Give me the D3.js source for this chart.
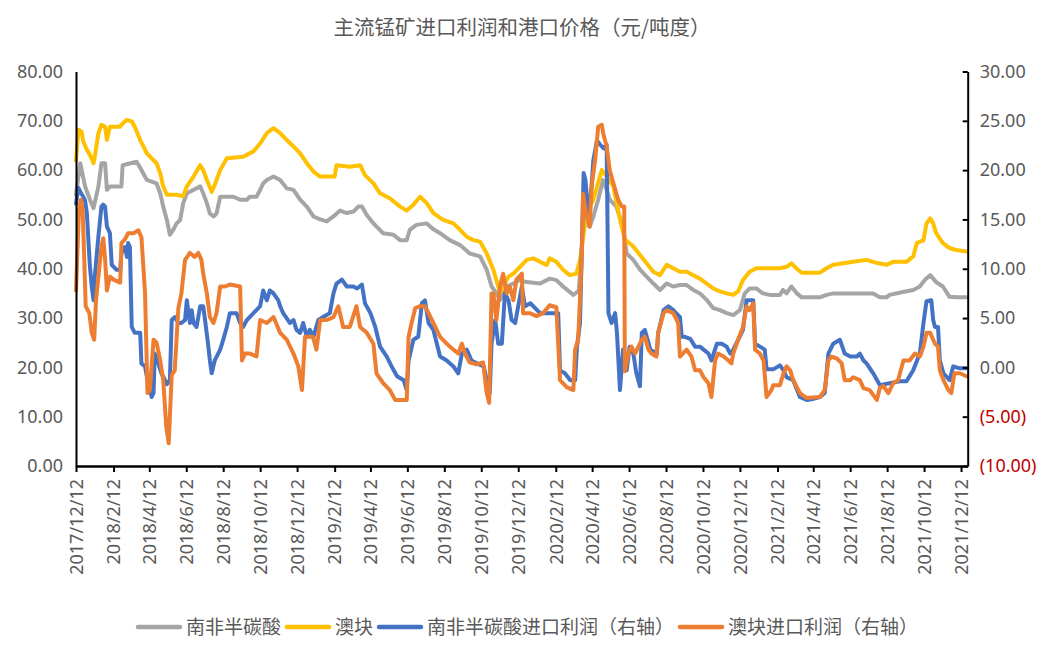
<!DOCTYPE html>
<html><head><meta charset="utf-8">
<script src="https://cdn.jsdelivr.net/npm/d3@7"></script>
<style>
body{margin:0;background:#fff;}
svg{display:block;}
</style></head>
<body>
<svg id="c" width="1057" height="657"></svg>
<script>
// ---- data (days since 2017/12/12, value) ----
const startDate = "2017/12/12";
const tickLabels = ["2017/12/12","2018/2/12","2018/4/12","2018/6/12","2018/8/12","2018/10/12","2018/12/12",
  "2019/2/12","2019/4/12","2019/6/12","2019/8/12","2019/10/12","2019/12/12","2020/2/12","2020/4/12",
  "2020/6/12","2020/8/12","2020/10/12","2020/12/12","2021/2/12","2021/4/12","2021/6/12","2021/8/12",
  "2021/10/12","2021/12/12"];
const leftTicks = [0,10,20,30,40,50,60,70,80];
const rightTicks = [-10,-5,0,5,10,15,20,25,30];
const seriesNames = ["南非半碳酸","澳块","南非半碳酸进口利润（右轴）","澳块进口利润（右轴）"];

const saPrice = [[0,55],[7,61.4],[15,56.7],[23,54],[29,52.3],[37,56.7],[42,61.4],[48,61.4],[51,56],[56,56.7],[75,56.7],[77,61],[100,61.7],[105,60.7],[117,58],[133,57.3],[139,55.3],[144,52.6],[150,49.9],[155,46.9],[161,48],[166,49.2],[172,49.9],[177,53.3],[183,55.3],[194,56],[205,56.7],[210,55.3],[216,53.3],[221,51.2],[227,50.6],[232,51.2],[238,54.6],[260,54.6],[271,54],[282,54],[287,54.6],[298,54.6],[304,56],[309,57.3],[315,58],[326,58.7],[337,58],[348,56.3],[359,56],[370,54],[381,52.6],[392,50.6],[403,50],[414,49.6],[425,50.6],[436,51.8],[447,51.3],[458,51.6],[466,52.6],[472,52.6],[480,50.9],[491,49.2],[507,47.2],[524,46.9],[535,45.8],[546,45.8],[551,47.9],[562,48.9],[579,49.2],[590,48],[601,47.2],[617,45.8],[634,44.8],[650,43.1],[667,42.5],[678,39.8],[686,36.4],[694,35],[700,33.7],[705,35],[711,36.4],[722,37],[733,37.7],[744,37.3],[766,37],[782,38],[793,37.7],[804,36.4],[821,34.7],[830,35.5],[838,49.9],[848,48.5],[854,50.6],[862,54],[870,58],[876,56],[881,54],[892,52.6],[903,48.5],[909,43.1],[920,41.8],[931,39.8],[942,38.4],[953,37],[964,35.7],[975,37],[986,36.4],[997,36.7],[1008,36.7],[1019,35.7],[1030,35],[1041,33.7],[1052,32],[1063,31.6],[1074,31],[1085,30.6],[1096,31.6],[1104,35],[1112,36],[1123,36],[1134,35],[1145,34.7],[1162,34.7],[1167,35.7],[1173,35],[1181,36.4],[1190,35],[1198,34.2],[1228,34.2],[1239,34.7],[1250,35],[1283,35],[1316,35],[1327,34.2],[1338,34.2],[1343,34.7],[1365,35.3],[1382,35.7],[1393,36.4],[1401,37.7],[1410,38.7],[1420,37.3],[1431,36.4],[1442,34.3],[1453,34.2],[1470,34.2]];

const auPrice = [[0,62],[4,68.2],[9,67.8],[12,65.8],[18,64.1],[23,63.1],[29,61.4],[31,62.7],[37,67.5],[42,69.2],[48,68.8],[51,66.1],[56,68.8],[73,68.8],[75,69.2],[84,70.2],[92,69.9],[97,68.8],[106,66.1],[117,63.4],[128,62],[133,61.4],[139,59.4],[144,56.7],[150,55],[166,55],[177,54.7],[183,56.7],[194,58.7],[205,61],[210,60],[216,58],[224,55.6],[230,57.3],[238,60],[249,62.4],[276,62.7],[293,63.8],[304,65.4],[315,67.5],[326,68.5],[337,67.5],[348,66.1],[359,64.8],[370,63.4],[381,61.4],[392,59.7],[403,58.7],[427,58.7],[430,61],[452,60.7],[469,61],[477,59],[491,57.3],[502,55.3],[518,54.3],[535,52.6],[546,51.8],[557,53],[568,54.6],[579,53.3],[590,51.3],[606,49.9],[623,49.2],[634,47.9],[645,46.5],[656,45.8],[667,45.5],[678,43.1],[689,39.8],[697,36.4],[700,35],[705,36.4],[714,38.4],[722,39],[733,40.4],[744,41.8],[755,42.1],[766,41.4],[777,40.8],[782,42.1],[793,41.4],[804,39.8],[815,38.7],[826,39],[832,41.8],[843,51.3],[854,54],[868,60],[876,58.7],[887,56.7],[898,50],[906,46],[920,44.5],[931,42.8],[942,41.1],[953,39.4],[964,38.7],[975,40.8],[986,40.1],[997,39.4],[1008,39.4],[1019,38.7],[1030,38],[1041,37],[1052,36],[1063,35.4],[1074,35],[1085,34.7],[1093,35.4],[1101,37.7],[1112,39.4],[1123,40.1],[1140,40.1],[1162,40.1],[1173,40.4],[1181,41.1],[1190,40],[1198,39.2],[1228,39.2],[1239,40.1],[1250,40.8],[1283,41.4],[1305,41.8],[1321,41.2],[1338,40.8],[1349,41.4],[1371,41.4],[1382,42.5],[1388,45.2],[1399,45.8],[1404,49.2],[1410,50.2],[1415,49.2],[1420,47.2],[1431,45.2],[1442,44.2],[1453,43.8],[1470,43.5]];

const saProfit = [[0,16.6],[4,18.2],[7,17.8],[9,17.6],[12,17.3],[15,16.9],[18,15.6],[23,10.2],[26,8.2],[29,6.8],[31,9.2],[37,13.3],[42,16.3],[45,16.5],[48,16.3],[51,14.3],[56,13.6],[59,10.4],[67,9.9],[73,9.9],[75,11.6],[81,12.2],[84,11.2],[86,12.6],[89,12.2],[92,4.1],[97,3.5],[106,3.5],[108,0.4],[114,0.1],[118,-1.3],[122,-2.3],[125,-3],[128,-2.6],[130,1.4],[136,0.4],[141,-0.6],[147,-1.3],[150,-1.7],[155,-1.3],[158,4.8],[163,5.1],[169,4.5],[174,4.5],[180,4.8],[183,6.8],[188,4.5],[191,5.8],[194,4.5],[199,4.1],[205,6.2],[210,6.2],[213,4.8],[218,2.4],[221,0.7],[224,-0.6],[229,0.7],[238,1.8],[243,2.8],[249,4.1],[254,5.5],[265,5.5],[271,4.5],[276,4.1],[282,4.8],[293,5.5],[304,6.2],[309,7.8],[315,6.8],[320,7.8],[326,7.5],[334,6.8],[337,6.2],[342,5.5],[353,4.5],[359,4.8],[364,3.8],[370,3.5],[375,4.5],[381,3.1],[386,3.8],[392,3.1],[400,4.8],[408,5.1],[419,5.5],[425,7.5],[430,8.5],[439,8.9],[447,8.2],[458,8.2],[464,8],[472,8.4],[477,6.5],[486,5.5],[494,4.1],[502,2.1],[513,1.1],[521,0.1],[530,-0.9],[541,-1.3],[546,-2.3],[549,0.7],[557,2.8],[565,3.1],[571,6.5],[576,6.8],[582,4.5],[590,3.8],[601,1.1],[612,0.7],[623,0.1],[631,-0.6],[637,1.4],[645,1.8],[653,0.7],[662,0.4],[673,0.1],[678,-1.3],[683,-2.6],[686,2.4],[692,4.8],[697,2.4],[703,2.4],[708,7.5],[714,6.8],[719,4.8],[725,4.5],[730,6.2],[736,8.2],[741,6.2],[750,6.5],[758,6],[766,5.5],[796,5.5],[799,-0.3],[807,-0.6],[816,-1.3],[824,-1.3],[827,2.1],[832,4.5],[838,19.7],[841,19],[846,15.3],[851,18.3],[854,21],[860,23],[865,22.6],[871,22.2],[876,22.6],[879,5.5],[884,4.5],[890,5.5],[893,3.5],[898,-2.3],[903,1.8],[909,-0.3],[914,2.1],[920,1.4],[925,-0.6],[931,-1.9],[934,3.5],[939,3.8],[948,1.8],[959,1.4],[961,3.5],[970,5.8],[978,6.2],[986,5.8],[997,5.1],[1000,3.1],[1005,3.1],[1014,2.9],[1022,2.1],[1030,2.1],[1036,1.8],[1044,1.4],[1049,0.7],[1058,2.4],[1066,2.4],[1074,2.1],[1080,1.4],[1085,1.8],[1093,2.8],[1101,3.8],[1107,6.8],[1118,6.8],[1121,2.4],[1129,2.1],[1137,1.8],[1140,-0.2],[1151,-0.2],[1162,0.2],[1168,-0.3],[1173,-1],[1184,-1.3],[1195,-3],[1206,-3.3],[1217,-3.2],[1228,-3],[1236,-2.6],[1242,1.4],[1250,2.4],[1261,2.8],[1269,1.4],[1278,1.1],[1289,1.1],[1294,1.4],[1300,0.7],[1305,0.4],[1316,-0.6],[1327,-1.8],[1360,-1.4],[1371,-1.4],[1382,-0.3],[1393,1.4],[1399,4.5],[1404,6.7],[1412,6.8],[1415,4.8],[1418,4.1],[1423,4.1],[1426,0.7],[1432,-0.6],[1442,-1.3],[1448,0.1],[1459,-0.1],[1470,-0.1]];

const auProfit = [[0,7.8],[2,11.2],[5,16],[8,17],[11,16],[13,12.2],[16,6.2],[22,5.5],[26,3.5],[30,2.8],[33,6.8],[37,9.2],[42,12.2],[45,13.1],[48,11],[51,7.8],[56,9.2],[62,8.9],[73,8.6],[75,12.6],[81,13],[86,13.6],[95,13.6],[103,13.9],[108,13.2],[114,7.5],[118,-2.6],[122,-2.3],[128,2.8],[133,2.5],[139,0.7],[144,-1.3],[149,-6],[153,-7.7],[158,-0.8],[163,-0.3],[169,6],[174,7.5],[180,10.9],[188,11.6],[196,11.2],[202,11.6],[207,10.9],[210,9.5],[216,7.5],[221,5.1],[227,4.5],[232,5.5],[238,8.2],[246,8.2],[254,8.4],[271,8.2],[274,0.7],[279,1.4],[287,1.4],[298,1.1],[304,4.8],[315,4.5],[326,5.1],[337,3.5],[348,2.8],[359,1.4],[367,0.1],[373,-2.3],[378,3.1],[391,3.1],[397,1.8],[403,4.8],[414,4.8],[425,5.1],[433,6.2],[441,4.1],[452,4.1],[463,6.2],[469,4.1],[480,3.5],[491,2.4],[496,-0.6],[507,-1.6],[518,-2.3],[527,-3.3],[546,-3.3],[549,3.1],[554,4.5],[560,6],[568,6.2],[576,6.2],[582,5.5],[590,4.5],[601,3.1],[612,2.4],[623,1.8],[631,1.4],[637,2.4],[642,1.4],[650,0.5],[661,0.3],[672,0.5],[678,-2.6],[682,-3.6],[686,7.5],[689,7.5],[694,4.8],[700,8.2],[705,9.5],[711,7.5],[716,8.2],[722,6.8],[727,8.9],[736,9.5],[738,5.5],[749,5.5],[760,5.2],[771,5.5],[782,6.3],[793,6.1],[799,-1.3],[810,-2],[821,-2.3],[824,1.8],[829,2.8],[835,11.2],[837,17.6],[843,15.3],[848,14.3],[851,18.3],[857,21],[862,24.4],[868,24.6],[870,23.8],[876,22.4],[881,20],[887,18.7],[895,17],[901,16.3],[905,16.3],[906,-0.4],[912,1.4],[917,2.1],[923,1.4],[926,1.8],[934,2.8],[939,3.1],[945,1.8],[950,1.4],[958,1.1],[961,3.5],[970,5.5],[975,5.8],[986,5.5],[994,4.5],[997,1.1],[1008,1.8],[1016,1.1],[1022,-0.3],[1030,-0.3],[1036,-1],[1044,-1.6],[1049,-3],[1055,0.7],[1060,1.4],[1069,1.1],[1077,0.7],[1082,0.4],[1085,1.4],[1093,2.8],[1101,4.1],[1107,6.2],[1112,5.8],[1118,6.5],[1121,1.8],[1129,1.4],[1135,0.7],[1140,-3],[1148,-2.3],[1151,-1.8],[1162,-1.8],[1168,-0.6],[1173,0.1],[1179,-0.3],[1184,-1.3],[1195,-2.6],[1206,-3.1],[1228,-3],[1236,-2.3],[1242,0.7],[1247,1.1],[1256,0.9],[1264,0.4],[1269,-1.3],[1278,-1.3],[1283,-1],[1294,-1.3],[1300,-2.1],[1310,-2.3],[1322,-3.3],[1327,-2.1],[1333,-1.9],[1341,-2.6],[1349,-1.6],[1357,-1.3],[1366,0.7],[1376,0.7],[1385,1.4],[1393,1.1],[1399,2.1],[1404,3.5],[1410,3.5],[1418,2.4],[1423,2.1],[1426,-0.3],[1432,-1.3],[1440,-2.3],[1445,-2.6],[1450,-0.6],[1459,-0.6],[1470,-0.9]];

const colors = ["#A5A5A5","#FFC000","#4472C4","#ED7D31"];

// ---- layout ----
const svg = d3.select("#c");
const plot = {left: 76, right: 967.7, top: 71.5, bottom: 466};
const parse = d3.timeParse("%Y/%m/%d");
const t0 = parse(startDate);
const x = d3.scaleTime().domain([t0, d3.timeDay.offset(t0, 1472)]).range([plot.left, plot.right]);
const yL = d3.scaleLinear().domain([0, 80]).range([plot.bottom, plot.top]);
const yR = d3.scaleLinear().domain([-10, 30]).range([plot.bottom, plot.top]);

const textColor = "#595959";
const font = "'Noto Sans', 'Noto Sans CJK SC', sans-serif";

// title
svg.append("text").attr("x", 522).attr("y", 35).attr("text-anchor", "middle")
  .attr("font-family", "'Noto Sans CJK SC', sans-serif").attr("font-size", 20.5)
  .attr("fill", textColor).text("主流锰矿进口利润和港口价格（元/吨度）");

// lines
const series = [
  {pts: saPrice, y: yL, c: colors[0]},
  {pts: auPrice, y: yL, c: colors[1]},
  {pts: saProfit, y: yR, c: colors[2]},
  {pts: auProfit, y: yR, c: colors[3]}
];
series.forEach(s => {
  const data = s.pts.map(([d, v]) => ({date: d3.timeDay.offset(t0, d), v}));
  const line = d3.line().x(d => x(d.date)).y(d => s.y(d.v));
  svg.append("path").datum(data).attr("d", line).attr("fill", "none")
    .attr("stroke", s.c).attr("stroke-width", 4)
    .attr("stroke-linejoin", "round").attr("stroke-linecap", "round");
});

// left axis
const gL = svg.append("g").attr("transform", `translate(${plot.left},0)`)
  .call(d3.axisLeft(yL).tickValues(leftTicks).tickSize(0).tickPadding(13).tickFormat(d => d.toFixed(2)));
gL.select(".domain").attr("stroke", "#000").attr("stroke-width", 2);
gL.selectAll("text").attr("font-family", font).attr("font-size", 18).attr("fill", textColor);

// right axis
const gR = svg.append("g").attr("transform", `translate(${plot.right},0)`)
  .call(d3.axisRight(yR).tickValues(rightTicks).tickSizeInner(-5).tickSizeOuter(0).tickPadding(12)
    .tickFormat(d => d < 0 ? `(${Math.abs(d).toFixed(2)})` : d.toFixed(2)));
gR.select(".domain").attr("stroke", "#000").attr("stroke-width", 2);
gR.selectAll(".tick line").attr("stroke", "#000").attr("stroke-width", 2);
gR.selectAll("text").attr("font-family", font).attr("font-size", 18)
  .attr("fill", d => d < 0 ? "#C00000" : textColor);

// bottom axis
const tickDates = tickLabels.map(parse);
const gB = svg.append("g").attr("transform", `translate(0,${plot.bottom})`)
  .call(d3.axisBottom(x).tickValues(tickDates).tickSizeInner(6).tickSizeOuter(0)
    .tickFormat((d, i) => tickLabels[i]));
gB.select(".domain").attr("stroke", "#000").attr("stroke-width", 2.5);
gB.selectAll(".tick line").attr("stroke", "#000").attr("stroke-width", 2);
gB.selectAll("text").attr("font-family", font).attr("font-size", 18).attr("fill", textColor)
  .attr("transform", "rotate(-90)").attr("text-anchor", "end")
  .attr("x", -13).attr("y", 0).attr("dy", "0.35em");

// legend
const lg = svg.append("g");
const items = [];
seriesNames.forEach((name, i) => {
  const g = lg.append("g");
  g.append("line").attr("x1", 0).attr("x2", 42).attr("y1", 0).attr("y2", 0)
    .attr("stroke", colors[i]).attr("stroke-width", 4.5).attr("stroke-linecap", "round");
  const t = g.append("text").attr("x", 48).attr("y", 0).attr("dy", "0.35em")
    .attr("font-family", "'Noto Sans CJK SC', sans-serif").attr("font-size", 19)
    .attr("fill", textColor).text(name);
  const w = 48 + t.node().getComputedTextLength();
  items.push({g, w});
});
const gap = 6;
const total = d3.sum(items, d => d.w) + gap * (items.length - 1);
let px = 528 - total / 2;
items.forEach(it => { it.g.attr("transform", `translate(${px},627)`); px += it.w + gap; });
</script>
</body></html>
